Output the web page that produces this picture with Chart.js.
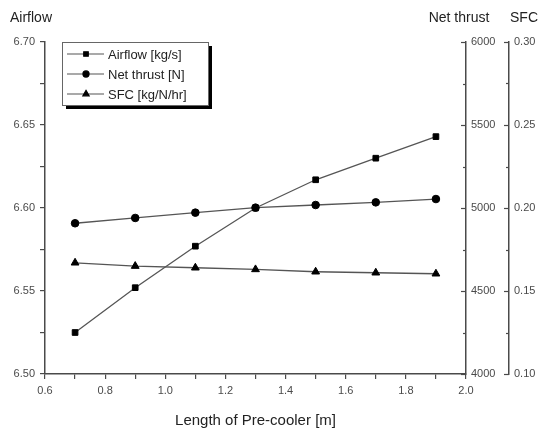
<!DOCTYPE html>
<html>
<head>
<meta charset="utf-8">
<script src="https://cdn.jsdelivr.net/npm/chart.js@4"></script>
<style>
  html, body { margin: 0; padding: 0; background: #fff; }
  #wrap { width: 544px; height: 430px; }
</style>
</head>
<body>
<div id="wrap"><canvas id="chart" width="544" height="430"></canvas></div>
<script>
// ─── Data ───
const lengths = [0.7, 0.9, 1.1, 1.3, 1.5, 1.7, 1.9];
const airflow = [6.525, 6.552, 6.577, 6.600, 6.617, 6.630, 6.643];
const netThrust = [4908, 4940, 4972, 5002, 5018, 5034, 5054];
const sfc = [0.167, 0.165, 0.164, 0.163, 0.1616, 0.161, 0.1604];

const FONT = '"Liberation Sans", Arial, sans-serif';
const INK = '#222';
const AXIS = '#4a4a4a';

const pts = (ys) => lengths.map((x, i) => ({ x: x, y: ys[i] }));

// inward ticks on the right axes (labels stay on the right)
const rightTicks = {
    id: 'rightTicks',
    afterDraw(chart) {
        const ctx = chart.ctx;
        ctx.save();
        ctx.strokeStyle = AXIS;
        ctx.lineWidth = 1.2;
        ['yThrust', 'ySFC'].forEach(id => {
            const s = chart.scales[id];
            s.ticks.forEach(t => {
                const y = Math.round(s.getPixelForValue(t.value)) + 0.5;
                const len = t.label !== '' ? 5 : 3;
                ctx.beginPath();
                ctx.moveTo(s.left, y);
                ctx.lineTo(s.left - len, y);
                ctx.stroke();
            });
        });
        ctx.restore();
    }
};

// axis titles + boxed legend with drop shadow
const decor = {
    id: 'decor',
    afterDraw(chart) {
        const ctx = chart.ctx;
        ctx.save();
        ctx.fillStyle = INK;
        ctx.font = '14px ' + FONT;
        ctx.textBaseline = 'middle';
        ctx.textAlign = 'left';
        ctx.fillText('Airflow', 10, 18);
        ctx.textAlign = 'center';
        ctx.fillText('Net thrust', 459, 18);
        ctx.fillText('SFC', 524, 18);

        // legend
        const bx = 62, by = 42, bw = 146, bh = 63;
        ctx.fillStyle = '#000';
        ctx.fillRect(bx + 4, by + bh, bw, 4);
        ctx.fillRect(bx + bw, by + 4, 4, bh);
        ctx.fillStyle = '#fff';
        ctx.fillRect(bx, by, bw, bh);
        ctx.strokeStyle = '#666';
        ctx.lineWidth = 1;
        ctx.strokeRect(bx + 0.5, by + 0.5, bw, bh);

        chart.data.datasets.forEach((ds, i) => {
            const y = by + 12 + i * 20;
            ctx.strokeStyle = ds.borderColor;
            ctx.lineWidth = 1.2;
            ctx.beginPath();
            ctx.moveTo(bx + 5, y);
            ctx.lineTo(bx + 42, y);
            ctx.stroke();
            ctx.fillStyle = '#000';
            ctx.strokeStyle = '#000';
            Chart.helpers.drawPoint(ctx, {
                pointStyle: ds.pointStyle,
                radius: ds.pointRadius * 0.8,
                rotation: 0,
                borderWidth: 1
            }, bx + 24, y);
            ctx.fillStyle = INK;
            ctx.textAlign = 'left';
            ctx.font = '13px ' + FONT;
            ctx.fillText(ds.label, bx + 46, y + 1);
        });
        ctx.restore();
    }
};

const lineDs = (label, data, axis, style, r) => ({
    label: label,
    data: pts(data),
    yAxisID: axis,
    borderColor: '#555',
    borderWidth: 1.3,
    pointStyle: style,
    pointRadius: r,
    pointBackgroundColor: '#000',
    pointBorderColor: '#000',
    pointBorderWidth: 1,
    tension: 0
});

const tickFont = { family: FONT, size: 11 };

new Chart(document.getElementById('chart'), {
    type: 'line',
    data: {
        datasets: [
            lineDs('Airflow [kg/s]', airflow, 'y', 'rect', 4),
            lineDs('Net thrust [N]', netThrust, 'yThrust', 'circle', 3.8),
            lineDs('SFC [kg/N/hr]', sfc, 'ySFC', 'triangle', 4.5)
        ]
    },
    options: {
        responsive: false,
        animation: false,
        layout: { padding: { top: 42, right: 0, left: 0, bottom: 0 } },
        plugins: { legend: { display: false }, tooltip: { enabled: false } },
        scales: {
            x: {
                type: 'linear',
                position: 'bottom',
                min: 0.6,
                max: 2.0,
                ticks: {
                    stepSize: 0.1,
                    color: AXIS,
                    font: tickFont,
                    padding: 5,
                    maxRotation: 0,
                    autoSkip: false,
                    callback: v => Math.round(v * 10) % 2 === 0 ? v.toFixed(1) : ''
                },
                grid: { drawOnChartArea: false, color: AXIS, tickLength: 5, lineWidth: 1.2 },
                border: { color: AXIS, width: 1.5 },
                title: {
                    display: true,
                    text: 'Length of Pre-cooler [m]',
                    color: INK,
                    font: { family: FONT, size: 15 },
                    padding: { top: 3, bottom: 0 }
                },
                afterFit: s => { s.height = 56; }
            },
            y: {
                position: 'left',
                min: 6.50,
                max: 6.70,
                ticks: {
                    stepSize: 0.025,
                    color: AXIS,
                    font: tickFont,
                    padding: 5,
                    autoSkip: false,
                    callback: v => Math.round(v * 1000) % 50 === 0 ? v.toFixed(2) : ''
                },
                grid: { drawOnChartArea: false, color: AXIS, tickLength: 5, lineWidth: 1.2 },
                border: { color: AXIS, width: 1.5 },
                afterFit: s => { s.width = 45; }
            },
            yThrust: {
                position: 'right',
                min: 4000,
                max: 6000,
                ticks: {
                    stepSize: 250,
                    color: AXIS,
                    font: tickFont,
                    padding: 5,
                    autoSkip: false,
                    callback: v => v % 500 === 0 ? String(v) : ''
                },
                grid: { drawOnChartArea: false, drawTicks: false },
                border: { color: AXIS, width: 1.5 },
                afterFit: s => { s.width = 43; }
            },
            ySFC: {
                position: 'right',
                min: 0.10,
                max: 0.30,
                ticks: {
                    stepSize: 0.025,
                    color: AXIS,
                    font: tickFont,
                    padding: 5,
                    autoSkip: false,
                    callback: v => Math.round(v * 1000) % 50 === 0 ? v.toFixed(2) : ''
                },
                grid: { drawOnChartArea: false, drawTicks: false },
                border: { color: AXIS, width: 1.5 },
                afterFit: s => { s.width = 35; }
            }
        }
    },
    plugins: [rightTicks, decor]
});
</script>
</body>
</html>
